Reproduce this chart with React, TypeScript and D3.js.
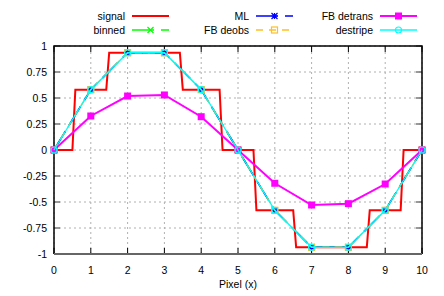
import React from "react";
import * as d3 from "d3";

// pixel positions and series values
const pixels = [0, 1, 2, 3, 4, 5, 6, 7, 8, 9, 10];
const binned = [0, 0.58, 0.935, 0.935, 0.58, 0, -0.58, -0.935, -0.935, -0.58, 0];
const mlVals = [0, 0.58, 0.935, 0.935, 0.58, 0, -0.58, -0.935, -0.935, -0.58, 0];
const fbDeobs = [0, 0.58, 0.935, 0.935, 0.58, 0, -0.58, -0.935, -0.935, -0.58, 0];
const fbDetrans = [0, 0.327, 0.519, 0.529, 0.32, 0, -0.32, -0.529, -0.516, -0.327, 0];
const destripe = [0, 0.58, 0.935, 0.935, 0.58, 0, -0.58, -0.935, -0.935, -0.58, 0];

// the underlying step signal (fine sampling)
const signalX = [0, 0.5, 0.58, 1.42, 1.5, 3.42, 3.5, 4.5, 4.58, 5.42, 5.5, 6.5, 6.58, 8.5, 8.58, 9.42, 9.5, 10];
const signalY = [0, 0, 0.58, 0.58, 0.935, 0.935, 0.58, 0.58, 0, 0, -0.58, -0.58, -0.935, -0.935, -0.58, -0.58, 0, 0];

const xTicks = [0, 1, 2, 3, 4, 5, 6, 7, 8, 9, 10];
const yTicks = [-1, -0.75, -0.5, -0.25, 0, 0.25, 0.5, 0.75, 1];

const W = 444;
const H = 296;
const margin = { top: 46, right: 22, bottom: 42, left: 54 };
const FONT = "'Liberation Sans', Arial, sans-serif";

type Marker = "none" | "x" | "star" | "square" | "fsquare" | "circle";

interface Series {
  name: string;
  xs: number[];
  ys: number[];
  color: string;
  width: number;
  dash?: string;
  marker: Marker;
}

const series: Series[] = [
  { name: "signal", xs: signalX, ys: signalY, color: "#ff0000", width: 2, marker: "none" },
  { name: "binned", xs: pixels, ys: binned, color: "#00ff00", width: 1.5, dash: "22,7", marker: "x" },
  { name: "ML", xs: pixels, ys: mlVals, color: "#0000ff", width: 1.5, dash: "22,7", marker: "star" },
  { name: "FB deobs", xs: pixels, ys: fbDeobs, color: "#ffc020", width: 1.5, dash: "7,6", marker: "square" },
  { name: "FB detrans", xs: pixels, ys: fbDetrans, color: "#ff00ff", width: 2, marker: "fsquare" },
  { name: "destripe", xs: pixels, ys: destripe, color: "#00ffff", width: 1.3, marker: "circle" },
];

function MarkerShape({ m, x, y, color }: { m: Marker; x: number; y: number; color: string }) {
  if (m === "x") {
    const s = 3;
    return (
      <path d={`M${x - s},${y - s}L${x + s},${y + s}M${x - s},${y + s}L${x + s},${y - s}`} stroke={color} strokeWidth={1.2} />
    );
  }
  if (m === "star") {
    const s = 3;
    return (
      <path
        d={`M${x - s},${y - s}L${x + s},${y + s}M${x - s},${y + s}L${x + s},${y - s}M${x - s},${y}L${x + s},${y}M${x},${y - s}L${x},${y + s}`}
        stroke={color}
        strokeWidth={1.2}
      />
    );
  }
  if (m === "square") {
    return <rect x={x - 3} y={y - 3} width={6} height={6} fill="none" stroke={color} strokeWidth={1.2} />;
  }
  if (m === "fsquare") {
    return <rect x={x - 3.5} y={y - 3.5} width={7} height={7} fill={color} />;
  }
  if (m === "circle") {
    return <circle cx={x} cy={y} r={3} fill="none" stroke={color} strokeWidth={1.2} />;
  }
  return null;
}

export default function App() {
  const x = d3.scaleLinear().domain([0, 10]).range([margin.left, W - margin.right]);
  const y = d3.scaleLinear().domain([-1, 1]).range([H - margin.bottom, margin.top]);
  const [x0, x1] = x.range();
  const [y0, y1] = y.range();

  const lineFor = (s: Series) =>
    d3
      .line<number>()
      .x((_, i) => x(s.xs[i]))
      .y((d) => y(d))(s.ys) || "";

  // legend layout: 3 columns x 2 rows, filled column by column
  const legendCols = [125, 249, 373];
  const legendRows = [16, 30];

  return (
    <svg width={W} height={H} style={{ position: "absolute", left: 0, top: 0, background: "#fff" }} fontFamily={FONT}>
      <rect width={W} height={H} fill="#fff" />
      {/* grid */}
      {xTicks.map((t) => (
        <line key={"gx" + t} x1={x(t)} x2={x(t)} y1={y0} y2={y1} stroke="#b0b0b0" strokeWidth={1} strokeDasharray="2,3" />
      ))}
      {yTicks.map((t) => (
        <line key={"gy" + t} x1={x0} x2={x1} y1={y(t)} y2={y(t)} stroke="#b0b0b0" strokeWidth={1} strokeDasharray="2,3" />
      ))}
      {/* ticks */}
      {xTicks.map((t) => (
        <g key={"tx" + t}>
          <line x1={x(t)} x2={x(t)} y1={y0} y2={y0 - 6} stroke="#000" strokeWidth={1} />
          <line x1={x(t)} x2={x(t)} y1={y1} y2={y1 + 6} stroke="#000" strokeWidth={1} />
          <text x={x(t)} y={y0 + 20} textAnchor="middle" fontSize={10.5} fill="#000">
            {t}
          </text>
        </g>
      ))}
      {yTicks.map((t) => (
        <g key={"ty" + t}>
          <line x1={x0} x2={x0 + 6} y1={y(t)} y2={y(t)} stroke="#777" strokeWidth={1.5} />
          <line x1={x1} x2={x1 - 6} y1={y(t)} y2={y(t)} stroke="#777" strokeWidth={1.5} />
          <text x={x0 - 7} y={y(t) + 3.5} textAnchor="end" fontSize={10.5} fill="#000">
            {t}
          </text>
        </g>
      ))}
      {/* border */}
      <path d={`M${x0},${y0}L${x0},${y1}L${x1},${y1}L${x1},${y0}`} fill="none" stroke="#000" strokeWidth={1.5} />
      <line x1={x0} x2={x1} y1={y0} y2={y0} stroke="#666" strokeWidth={1.8} />

      {/* series */}
      {series.map((s) => (
        <g key={s.name}>
          <path d={lineFor(s)} fill="none" stroke={s.color} strokeWidth={s.width} strokeDasharray={s.dash} />
          {s.marker !== "none" &&
            s.ys.map((v, i) => <MarkerShape key={i} m={s.marker} x={x(s.xs[i])} y={y(v)} color={s.color} />)}
        </g>
      ))}

      {/* legend */}
      {series.map((s, i) => {
        const col = Math.floor(i / 2);
        const row = i % 2;
        const tx = legendCols[col];
        const ty = legendRows[row];
        const lx0 = tx + 7;
        const lx1 = tx + 44;
        return (
          <g key={"lg" + s.name}>
            <text x={tx} y={ty + 3.5} textAnchor="end" fontSize={10.5} fill="#000">
              {s.name}
            </text>
            <line x1={lx0} x2={lx1} y1={ty} y2={ty} stroke={s.color} strokeWidth={s.width} strokeDasharray={s.dash} />
            {s.marker !== "none" && <MarkerShape m={s.marker} x={(lx0 + lx1) / 2} y={ty} color={s.color} />}
          </g>
        );
      })}

      <text x={(x0 + x1) / 2} y={y0 + 34} textAnchor="middle" fontSize={10.5} fill="#000">
        Pixel (x)
      </text>
    </svg>
  );
}
